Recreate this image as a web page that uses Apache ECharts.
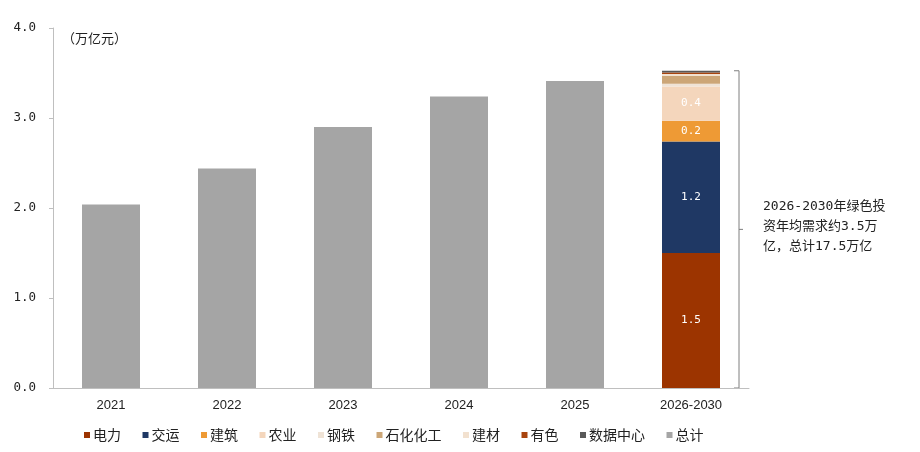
<!DOCTYPE html>
<html><head><meta charset="utf-8">
<script src="https://cdn.jsdelivr.net/npm/echarts@6/dist/echarts.min.js"></script>
<style>html,body{margin:0;padding:0;background:#fff}#c{width:920px;height:452px}</style>
</head><body><div id="c"></div>
<script>
const categories = ['2021','2022','2023','2024','2025','2026-2030'];
const yTicks = [0, 1, 2, 3, 4];
const totalHist = [2.04, 2.44, 2.90, 3.24, 3.41, null];
const segNames = ['电力','交运','建筑','农业','钢铁','石化化工','建材','有色','数据中心'];
const segValues = [1.50, 1.24, 0.23, 0.38, 0.03, 0.09, 0.02, 0.015, 0.02];
const segColors = ['#9C3400','#1F3864','#EE9A35','#F4D6BC','#EFE3D6','#CCA677','#F2E1CF','#A8440E','#595959'];
const labeledSegs = ['电力','交运','建筑','农业'];
const totalName = '总计';
const totalColor = '#A5A5A5';
const unitText = '（万亿元）';
const noteText = '2026-2030年绿色投\n资年均需求约3.5万\n亿，总计17.5万亿';

const cjk = '"Noto Sans CJK SC", "Noto Sans", sans-serif';
const mono = '"DejaVu Sans Mono", "Noto Sans CJK SC", monospace';
const sans = '"Liberation Sans", "Noto Sans CJK SC", sans-serif';
const chart = echarts.init(document.getElementById('c'));
const last = categories.length - 1;

const series = segNames.map((n, i) => ({
  name: n, type: 'bar', stack: 'a', barWidth: '50%',
  itemStyle: {color: segColors[i]},
  data: categories.map((c, k) => k === last ? segValues[i] : null),
  label: {show: labeledSegs.includes(n), color: '#fff', fontSize: 11, fontFamily: mono,
    formatter: p => p.value.toFixed(1)},
  emphasis: {disabled: true}
}));
series.push({
  name: totalName, type: 'bar', stack: 'a', barWidth: '50%',
  itemStyle: {color: totalColor}, data: totalHist, emphasis: {disabled: true}
});

chart.setOption({
  animation: false,
  textStyle: {fontFamily: cjk},
  grid: {left: 53, right: 171, top: 28, bottom: 64, containLabel: false},
  legend: {
    left: 79, top: 423, itemWidth: 6, itemHeight: 6, itemGap: 21.5, icon: 'rect',
    textStyle: {fontSize: 14, color: '#222', fontFamily: cjk, padding: [0,0,0,-2]},
    data: segNames.concat([totalName])
  },
  xAxis: {
    type: 'category', data: categories,
    axisLine: {lineStyle: {color: '#BFBFBF'}},
    axisTick: {show: false},
    axisLabel: {color: '#222', fontSize: 13, margin: 11, fontFamily: sans}
  },
  yAxis: {
    type: 'value', min: yTicks[0], max: yTicks[yTicks.length-1], interval: 1,
    axisLine: {show: true, lineStyle: {color: '#BFBFBF'}},
    axisTick: {show: true, length: 4, lineStyle: {color: '#BFBFBF'}},
    splitLine: {show: false},
    axisLabel: {color: '#222', fontSize: 12.5, margin: 17, fontFamily: mono,
      formatter: v => v.toFixed(1)}
  },
  series: series
});

const total = segValues.reduce((a, b) => a + b, 0);
const pBot = chart.convertToPixel({gridIndex: 0}, [last, 0]);
const pTop = chart.convertToPixel({gridIndex: 0}, [last, total]);
const bx = pBot[0] + 48;
const mid = (pBot[1] + pTop[1]) / 2;
chart.setOption({
  graphic: [
    {type: 'polyline', shape: {points: [[bx-5, pTop[1]], [bx, pTop[1]], [bx, pBot[1]], [bx-5, pBot[1]]]},
      style: {stroke: '#7F7F7F', lineWidth: 1, fill: null}},
    {type: 'line', shape: {x1: bx, y1: mid, x2: bx+4, y2: mid}, style: {stroke: '#7F7F7F', lineWidth: 1}},
    {type: 'text', left: 763, top: mid - 33,
      style: {text: noteText, lineHeight: 20, fill: '#222', font: '13px ' + mono}},
    {type: 'text', left: 62, top: 32,
      style: {text: unitText, fill: '#222', font: '13px ' + cjk}}
  ]
});
</script></body></html>
